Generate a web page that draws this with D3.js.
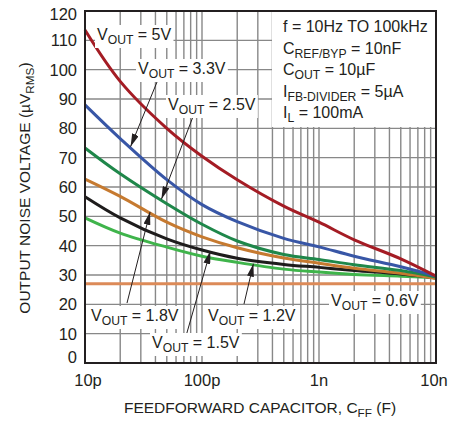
<!DOCTYPE html>
<html>
<head>
<meta charset="utf-8">
<script src="https://cdn.jsdelivr.net/npm/d3@7"></script>
<style>
body { margin: 0; background: #fff; }
text { font-family: "Liberation Sans", Arial, sans-serif; fill: #231f20; }
</style>
</head>
<body>
<div id="chart"></div>
<script>
// feedforward capacitance, pF
var cff = [10, 20, 50, 100, 200, 500, 1000, 2000, 5000, 10000];
// output noise, uVrms
var vout5  = [113.5, 96, 80, 70.5, 62.5, 53.5, 48, 42, 35.5, 29.6];
var vout33 = [88, 76.5, 62.5, 54, 48.2, 42.5, 39.6, 36.4, 32.8, 29.6];
var vout25 = [73.3, 64.5, 54.3, 47.3, 41.6, 37, 35.3, 33.5, 31.5, 29.3];
var vout18 = [62.7, 56.8, 48, 43, 39.3, 35.8, 34, 32.3, 30.6, 28.8];
var vout15 = [56.7, 49.5, 42.3, 38.5, 35.7, 33.6, 32.6, 31.5, 30.3, 29];
var vout12 = [49.5, 44.3, 39.5, 36.4, 34.3, 32, 31, 30.2, 29.6, 29.1];
var vout06 = [27, 27, 27, 27, 27, 27, 27, 27, 27, 27];

var yTicks = [0, 10, 20, 30, 40, 50, 60, 70, 80, 90, 100, 110, 120];
var xTicks = [10, 100, 1000, 10000];
var xTickLabels = ["10p", "100p", "1n", "10n"];

var series = [
  {name: "0.6V", values: vout06, color: "#dc8a58"},
  {name: "1.2V", values: vout12, color: "#3fb44b"},
  {name: "1.5V", values: vout15, color: "#1e1c1c"},
  {name: "1.8V", values: vout18, color: "#c67a30"},
  {name: "2.5V", values: vout25, color: "#1f874a"},
  {name: "3.3V", values: vout33, color: "#3856a6"},
  {name: "5V",   values: vout5,  color: "#a41c24"}
];

var width = 462, height = 423;
var margin = {top: 11, right: 26, bottom: 60, left: 85};
var plotW = width - margin.left - margin.right,
    plotH = height - margin.top - margin.bottom;

var x = d3.scaleLog().domain([10, 10000]).range([margin.left, margin.left + plotW]);
var y = d3.scaleLinear().domain([0, 120]).range([margin.top + plotH, margin.top]);

var svg = d3.select("#chart").append("svg")
    .attr("width", width)
    .attr("height", height);

svg.append("defs").append("marker")
    .attr("id", "arrow")
    .attr("viewBox", "0 0 10 10")
    .attr("refX", 10).attr("refY", 5)
    .attr("markerWidth", 13).attr("markerHeight", 7)
    .attr("markerUnits", "userSpaceOnUse")
    .attr("preserveAspectRatio", "none")
    .attr("orient", "auto")
  .append("path")
    .attr("d", "M0,0 L10,5 L0,10 z")
    .attr("fill", "#231f20");

// grid
var minor = [];
[10, 100, 1000].forEach(function(d) {
  for (var k = 2; k <= 9; k++) minor.push(d * k);
});
svg.append("g").selectAll("line.v")
    .data(minor.concat(xTicks))
    .enter().append("line")
    .attr("x1", function(d) { return x(d); })
    .attr("x2", function(d) { return x(d); })
    .attr("y1", y(0)).attr("y2", y(120))
    .attr("stroke", "#888").attr("stroke-width", 1.4);
svg.append("g").selectAll("line.h")
    .data(yTicks)
    .enter().append("line")
    .attr("x1", x(10)).attr("x2", x(10000))
    .attr("y1", function(d) { return y(d); })
    .attr("y2", function(d) { return y(d); })
    .attr("stroke", "#888").attr("stroke-width", 1.4);

// curves
var line = d3.line()
    .x(function(d, i) { return x(cff[i]); })
    .y(function(d) { return y(d); })
    .curve(d3.curveCatmullRom.alpha(0.5));

svg.append("g").selectAll("path")
    .data(series)
    .enter().append("path")
    .attr("d", function(d) { return line(d.values); })
    .attr("fill", "none")
    .attr("stroke", function(d) { return d.color; })
    .attr("stroke-width", 3);

// frame
svg.append("rect")
    .attr("x", x(10)).attr("y", y(120))
    .attr("width", x(10000) - x(10)).attr("height", y(0) - y(120))
    .attr("fill", "none").attr("stroke", "#231f20").attr("stroke-width", 2);

// tick labels
svg.append("g").selectAll("text")
    .data(yTicks)
    .enter().append("text")
    .attr("x", x(10) - 8)
    .attr("y", function(d) { return Math.min(Math.max(y(d), 14), 357); })
    .attr("dy", "0.36em")
    .attr("text-anchor", "end")
    .attr("font-size", 16.5)
    .text(function(d) { return d; });

svg.append("g").selectAll("text")
    .data(xTicks)
    .enter().append("text")
    .attr("x", function(d) { return Math.min(Math.max(x(d), 88), 434); })
    .attr("y", 386)
    .attr("text-anchor", "middle")
    .attr("font-size", 16.5)
    .text(function(d, i) { return xTickLabels[i]; });

// text with subscripts
function richText(g, px, py, parts, size) {
  var t = g.append("text").attr("x", px).attr("y", py).attr("font-size", size);
  parts.forEach(function(p, i) {
    var prevSub = i > 0 && parts[i - 1][1];
    var dy = p[1] ? (prevSub ? 0 : 4) : (prevSub ? -4 : 0);
    t.append("tspan")
      .attr("dy", dy)
      .attr("font-size", p[1] ? size * 0.76 : size)
      .text(p[0]);
  });
  return t;
}

function boxed(g, px, py, parts, size) {
  var t = richText(g, px, py, parts, size);
  var b = t.node().getBBox();
  g.insert("rect", function() { return t.node(); })
    .attr("x", b.x - 2).attr("y", b.y - 1)
    .attr("width", b.width + 4).attr("height", b.height + 2)
    .attr("fill", "#fff");
  return t;
}

// axis titles
var xt = richText(svg, 0, 413, [["FEEDFORWARD CAPACITOR, C", false], ["FF", true], [" (F)", false]], 15.5);
xt.attr("x", x(100) + 58 - xt.node().getComputedTextLength() / 2);

var ytG = svg.append("g").attr("transform", "translate(30,188) rotate(-90)");
var yt = richText(ytG, 0, 0, [["OUTPUT NOISE VOLTAGE (\u00b5V", false], ["RMS", true], [")", false]], 15.5);
yt.attr("x", -yt.node().getComputedTextLength() / 2);

// conditions box
var cond = svg.append("g");
cond.append("rect")
    .attr("x", 272).attr("y", 12)
    .attr("width", 163).attr("height", 115)
    .attr("fill", "#fff");
var condLines = [
  [["f = 10Hz TO 100kHz", false]],
  [["C", false], ["REF/BYP", true], [" = 10nF", false]],
  [["C", false], ["OUT", true], [" = 10\u00b5F", false]],
  [["I", false], ["FB-DIVIDER", true], [" = 5\u00b5A", false]],
  [["I", false], ["L", true], [" = 100mA", false]]
];
condLines.forEach(function(parts, i) {
  richText(cond, 283, 32 + i * 21.5, parts, 16);
});

// curve labels
function valueAt(values, c) {
  var lc = Math.log10(c);
  for (var i = 0; i < cff.length - 1; i++) {
    var a = Math.log10(cff[i]), b = Math.log10(cff[i + 1]);
    if (lc >= a && lc <= b) {
      return values[i] + (values[i + 1] - values[i]) * (lc - a) / (b - a);
    }
  }
  return values[values.length - 1];
}

var labelLayout = [
  {v: "5V",   lx: 97,  ly: 40},
  {v: "3.3V", lx: 138, ly: 74,  tail: [157, 82],  tipC: 24.5, values: vout33},
  {v: "2.5V", lx: 168, ly: 110, tail: [194, 114], tipC: 45,   values: vout25},
  {v: "1.8V", lx: 91,  ly: 321, tail: [127, 303], tipC: 36,   values: vout18},
  {v: "1.5V", lx: 152, ly: 348, tail: [186, 336], tipC: 118,  values: vout15},
  {v: "1.2V", lx: 208, ly: 321, tail: [244, 304], tipC: 275,  values: vout12},
  {v: "0.6V", lx: 331, ly: 306}
];

var ann = svg.append("g");
labelLayout.forEach(function(d) {
  if (d.tail) {
    ann.append("line")
      .attr("x1", d.tail[0]).attr("y1", d.tail[1])
      .attr("x2", x(d.tipC)).attr("y2", y(valueAt(d.values, d.tipC)) - 1)
      .attr("stroke", "#231f20").attr("stroke-width", 1)
      .attr("marker-end", "url(#arrow)");
  }
});
labelLayout.forEach(function(d) {
  boxed(ann, d.lx, d.ly, [["V", false], ["OUT", true], [" = " + d.v, false]], 16);
});
</script>
</body>
</html>
